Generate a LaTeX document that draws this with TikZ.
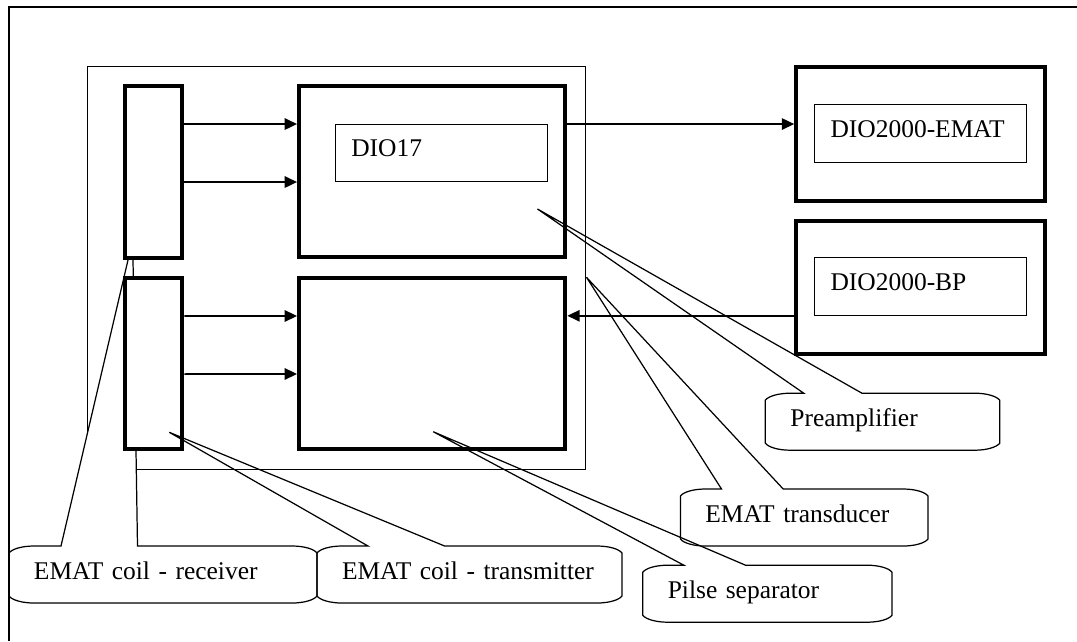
\documentclass[tikz,border=0pt]{standalone}
\usepackage{fontspec}
\setmainfont{Liberation Serif}
\usepackage{tikz}
\usetikzlibrary{calc}
\usetikzlibrary{backgrounds}
\usetikzlibrary{arrows.meta}

\tikzset{
  frame/.style={line width=1.2pt},
  holder/.style={draw, line width=0.6pt},
  block/.style={draw, line width=2.3pt, fill=white},
  tag/.style={draw, line width=0.6pt, fill=white, text width=36mm, inner xsep=3.2mm, align=left,
    minimum height=11.5mm, text height=3.4mm, text depth=1.8mm},
  balloon/.style={inner xsep=5mm, inner ysep=0pt, outer sep=0pt, text width=#1, align=left,
    minimum height=11.4mm, text height=3.4mm, text depth=1.4mm},
  balloonline/.style={line width=0.7pt},
  arr/.style={-{Triangle[length=7pt,width=6.5pt]}, line width=0.9pt}
}

% callout outline: node, tip, wedge base (offsets from the left side)
\newcommand\wedgeballoon[5][]{%
  \draw[balloonline,#1] ($(#2.north west)+(#4,0)$) -- (#3) -- ($(#2.north west)+(#5,0)$)
    -- ($(#2.north east)+(-25,0)$) .. controls +(12,0) and +(-3,-4) .. ($(#2.north east)+(0,7)$)
    -- ($(#2.south east)+(0,-7)$) .. controls +(-3,4) and +(12,0) .. ($(#2.south east)+(-25,0)$)
    -- ($(#2.south west)+(25,0)$) .. controls +(-12,0) and +(3,4) .. ($(#2.south west)+(0,-7)$)
    -- ($(#2.north west)+(0,7)$) .. controls +(3,-4) and +(-12,0) .. ($(#2.north west)+(25,0)$)
    -- cycle;}

\begin{document}
\begin{tikzpicture}[x=0.2mm, y=-0.2mm, font=\fontsize{14.5}{17}\selectfont]
\useasboundingbox (0,0) rectangle (1077,641);
\draw[frame] (8.8,641) -- (8.8,7.2) -- (1077,7.2);

% receiver callout sits under the coil boxes
\node[balloon=51.6mm] (rxlabel) at (163,574.5) {EMAT coil - receiver};
\coordinate (rxtip) at (132.7,240);
\begin{pgfonlayer}{background}
\node[holder, minimum width=99.62mm, minimum height=80.52mm] (board) at (336.35,268) {};
\wedgeballoon[fill=white]{rxlabel}{rxtip}{52}{128.5}
\end{pgfonlayer}

\node[block, minimum width=11.4mm, minimum height=34.3mm] (rxcoil) at (153.8,171.8) {};
\node[block, minimum width=11.4mm, minimum height=34.14mm] (txcoil) at (153.8,363.4) {};
\node[block, minimum width=53.26mm, minimum height=34.26mm] (preamp) at (432.2,171.7) {};
\node[block, minimum width=53.26mm, minimum height=34.16mm] (separator) at (432.2,363.4) {};
\node[block, minimum width=49.76mm, minimum height=26.7mm] (emat) at (920.6,134) {};
\node[block, minimum width=49.76mm, minimum height=26.6mm] (bp) at (920.6,287.3) {};

\node[tag] (dio17) at (441.3,152.9) {DIO17};
\node[tag] (ematcard) at (920.5,133.7) {DIO2000-EMAT};
\node[tag] (bpcard) at (920.5,286.7) {DIO2000-BP};

\draw[arr] ($(rxcoil.north east)+(0,40)$) -- ($(preamp.north west)+(0,40)$);
\draw[arr] ($(rxcoil.north east)+(0,98)$) -- ($(preamp.north west)+(0,98)$);
\draw[arr] ($(txcoil.north east)+(0,40)$) -- ($(separator.north west)+(0,40)$);
\draw[arr] ($(txcoil.north east)+(0,98)$) -- ($(separator.north west)+(0,98)$);
\draw[arr] ($(preamp.north east)+(0,40)$) coordinate (ematin) -- (ematin -| emat.west);
\draw[arr] ($(bp.north west)+(0,97)$) coordinate (bpout) -- (bpout -| separator.east);

\node[balloon=51mm] (txlabel) at (469.5,574.5) {EMAT coil - transmitter};
\node[balloon=36.86mm] (amplabel) at (882.5,421.7) {Preamplifier};
\node[balloon=39.52mm] (translabel) at (804.2,517.5) {EMAT transducer};
\node[balloon=39.86mm] (seplabel) at (767.4,593.7) {Pilse separator};
\coordinate (txtip) at (169.3,432.3);
\coordinate (amptip) at (537.5,209);
\coordinate (transtip) at (586.5,277.3);
\coordinate (septip) at (433.2,431.7);

\wedgeballoon{txlabel}{txtip}{51}{127.6}
\wedgeballoon{amplabel}{amptip}{38.4}{96.6}
\wedgeballoon{translabel}{transtip}{41.1}{102.8}
\wedgeballoon{seplabel}{septip}{41.1}{102.8}
\end{tikzpicture}
\end{document}
